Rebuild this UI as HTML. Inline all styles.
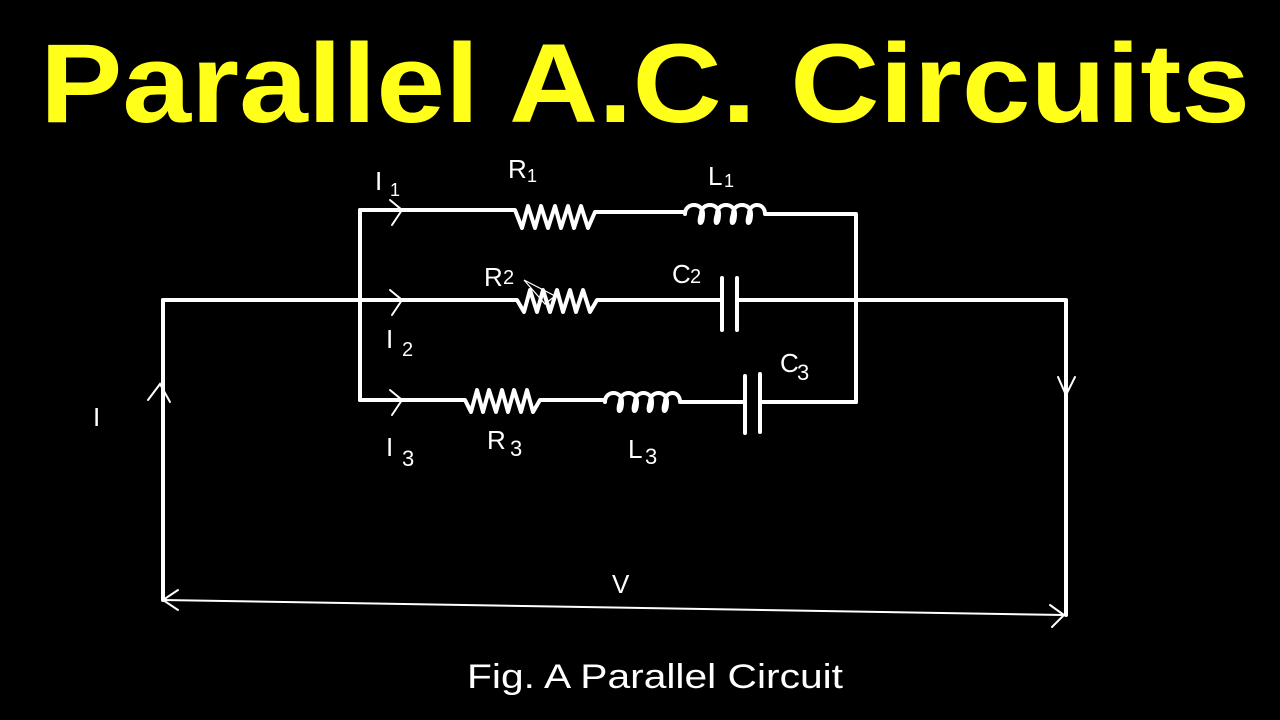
<!DOCTYPE html>
<html><head><meta charset="utf-8"><style>
html,body{margin:0;padding:0;background:#000;}
svg{display:block}
</style></head><body>
<svg width="1280" height="720" viewBox="0 0 1280 720" xmlns="http://www.w3.org/2000/svg">
<rect width="1280" height="720" fill="#000"/>
<text x="645" y="122" text-anchor="middle" fill="#ffff1a" font-family="Liberation Sans, sans-serif" font-weight="bold" font-size="112" textLength="1210" lengthAdjust="spacingAndGlyphs">Parallel A.C. Circuits</text>
<g stroke="#fff" fill="none" stroke-width="4" stroke-linecap="round" stroke-linejoin="round">
<path d="M360 210 V400"/>
<path d="M856 215 V402"/>
<!-- top branch -->
<path d="M360 210 H515 L522 228 L528 206 L535 228 L541 206 L548 228 L555 206 L561 228 L568 206 L574 228 L581 206 L588 228 L595 212 H685"/>
<path d="M685 214 c0 -12 18 -12 18 0 c0 12 -6 12 -2 0 c0 -12 18 -12 18 0 c0 12 -6 12 -2 0 c0 -12 18 -12 18 0 c0 12 -6 12 -2 0 c0 -12 18 -12 18 0 c0 12 -6 12 -2 0 c0 -12 16 -12 16 0 H856"/>
<!-- middle wire -->
<path d="M163 300 H517 L524 312 L530 290 L537 312 L543 290 L550 312 L557 290 L563 312 L570 290 L576 312 L583 290 L590 312 L597 300 H722"/>
<path d="M722 278 V330 M737 278 V330"/>
<path d="M737 300 H1066 V615"/>
<!-- bottom branch -->
<path d="M360 400 H465 L471 412 L477 390 L483 412 L489 390 L496 412 L502 390 L508 412 L514 390 L521 412 L527 390 L533 412 L540 400 H605"/>
<path d="M605 402 c0 -12 17 -12 17 0 c0 12 -6 12 -2 0 c0 -12 17 -12 17 0 c0 12 -6 12 -2 0 c0 -12 17 -12 17 0 c0 12 -6 12 -2 0 c0 -12 17 -12 17 0 c0 12 -6 12 -2 0 c0 -12 15 -12 15 0 H745"/>
<path d="M745 376 V433 M760 374 V432"/>
<path d="M760 402 H856"/>
<path d="M163 300 V600"/>
</g>
<g stroke="#fff" fill="none" stroke-width="2" stroke-linecap="round">
<path d="M390 200 L402 210 L392 225"/>
<path d="M390 290 L402 300 L392 315"/>
<path d="M390 390 L402 400 L392 415"/>
<path d="M148 400 L160 384 L170 402"/>
<path d="M1058 377 L1066 395 L1075 377"/>
<path d="M163 600 L1064 615"/>
<path d="M178 590 L163 600 L178 610"/>
<path d="M1050 605 L1064 615 L1052 627"/>
<path d="M524 280 L555 296 L545 304 Z" stroke-width="1.2"/>
</g>
<g fill="#fff" font-family="Liberation Sans, sans-serif" font-size="26">
<text x="375" y="190">I</text><text x="390" y="196" font-size="18">1</text>
<text x="508" y="178">R</text><text x="527" y="182" font-size="18">1</text>
<text x="708" y="185">L</text><text x="724" y="187" font-size="18">1</text>
<text x="484" y="286">R</text><text x="503" y="284" font-size="20">2</text>
<text x="672" y="283">C</text><text x="690" y="283" font-size="20">2</text>
<text x="386" y="348">I</text><text x="402" y="356" font-size="20">2</text>
<text x="780" y="372">C</text><text x="797" y="380" font-size="22">3</text>
<text x="386" y="456">I</text><text x="402" y="466" font-size="22">3</text>
<text x="487" y="449">R</text><text x="510" y="456" font-size="22">3</text>
<text x="628" y="458">L</text><text x="645" y="464" font-size="22">3</text>
<text x="93" y="426">I</text>
<text x="612" y="593">V</text>
</g>
<text x="655" y="688" text-anchor="middle" fill="#fff" font-family="Liberation Sans, sans-serif" font-size="34" textLength="376" lengthAdjust="spacingAndGlyphs">Fig. A Parallel Circuit</text>
</svg>
</body></html>
